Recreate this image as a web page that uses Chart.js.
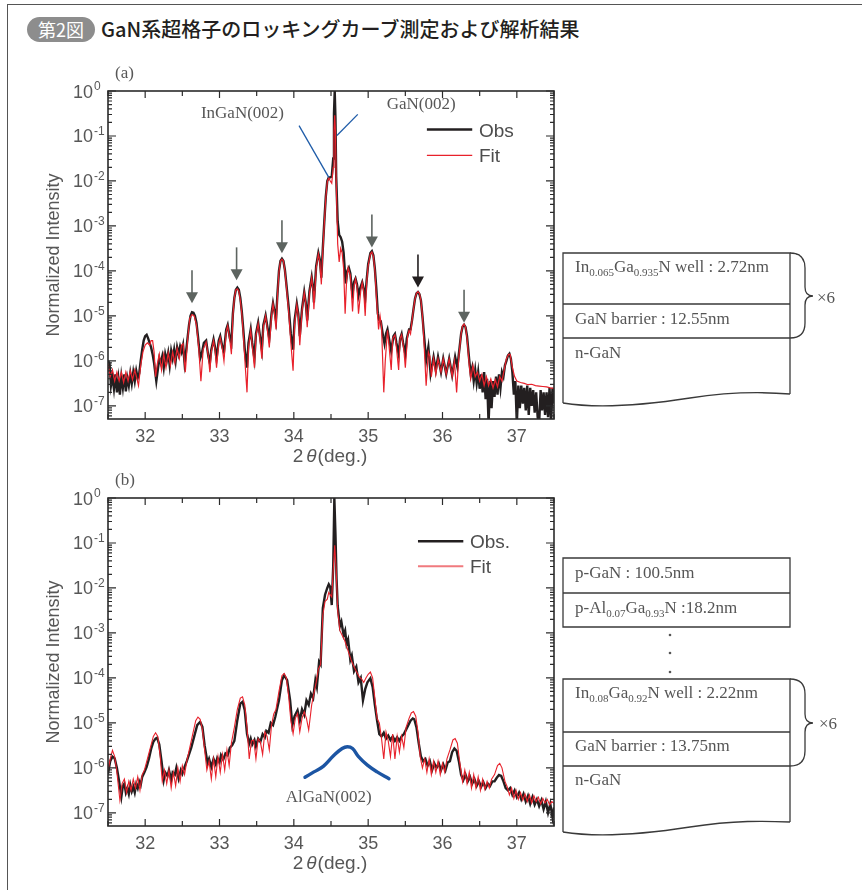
<!DOCTYPE html>
<html lang="ja">
<head>
<meta charset="utf-8">
<title>GaN系超格子のロッキングカーブ測定および解析結果</title>
<script src="https://cdn.jsdelivr.net/npm/chart.js@4.4.1/dist/chart.umd.min.js"></script>
<style>
  html, body { margin: 0; padding: 0; background: #fff; }
  #page { position: relative; width: 862px; height: 890px; overflow: hidden; }
  .rule-top { position: absolute; left: 7px; top: 4px; right: 0; border-top: 1.5px solid #555; }
  .rule-left { position: absolute; left: 7px; top: 4px; bottom: 0; border-left: 1.5px solid #555; }
  .badge { position: absolute; left: 27px; top: 17px; width: 68px; height: 25px; border-radius: 13px;
           background: #8d8d8d; color: #fff; font: 18px "Noto Sans CJK JP"; line-height: 25px; text-align: center; }
  .title { position: absolute; left: 101px; top: 15px; font: 500 20px "Noto Sans CJK JP"; line-height: 28px; color: #231f20; }
  canvas { position: absolute; left: 0; }
  #layers { position: absolute; left: 0; top: 0; }
</style>
</head>
<body>
<div id="page">
  <div class="rule-top"></div>
  <div class="rule-left"></div>
  <div class="badge">第2図</div>
  <div class="title">GaN系超格子のロッキングカーブ測定および解析結果</div>

  <canvas id="chartA" width="580" height="420" style="top:56px"></canvas>
  <canvas id="chartB" width="580" height="424" style="top:466px"></canvas>

  <svg id="layers" width="862" height="890" viewBox="0 0 862 890">
    <g fill="none" stroke="#3a3a3a" stroke-width="1.3">
      <path d="M563,403 L563,253 L790,253 L790,394"/>
      <path d="M563,304 H790 M563,338 H790"/>
      <path d="M563,403 C600,409 645,405 690,398 S765,392 790,394"/>
      <path d="M790,253 Q805,253 805,268 L805,287 Q805,296 813,296 Q805,296 805,305 L805,323 Q805,338 790,338"/>

      <path d="M563,558 H790 V627 H563 Z"/>
      <path d="M563,593 H790"/>
      <path d="M563,832 L563,679 L790,679 L790,822"/>
      <path d="M563,732 H790 M563,766 H790"/>
      <path d="M563,832 C600,838 645,834 690,827 S765,821 790,822"/>
      <path d="M790,679 Q805,679 805,694 L805,714 Q805,723 813,723 Q805,723 805,732 L805,751 Q805,766 790,766"/>
    </g>
    <g font-family="Liberation Serif" font-size="17" fill="#555">
      <text x="575" y="272">In<tspan font-size="11" dy="4">0.065</tspan><tspan dy="-4">Ga</tspan><tspan font-size="11" dy="4">0.935</tspan><tspan dy="-4">N well : 2.72nm</tspan></text>
      <text x="575" y="324">GaN barrier : 12.55nm</text>
      <text x="575" y="358">n-GaN</text>
      <text x="817" y="303">×6</text>

      <text x="575" y="578">p-GaN : 100.5nm</text>
      <text x="575" y="613">p-Al<tspan font-size="11" dy="4">0.07</tspan><tspan dy="-4">Ga</tspan><tspan font-size="11" dy="4">0.93</tspan><tspan dy="-4">N :18.2nm</tspan></text>
      <text x="575" y="698">In<tspan font-size="11" dy="4">0.08</tspan><tspan dy="-4">Ga</tspan><tspan font-size="11" dy="4">0.92</tspan><tspan dy="-4">N well : 2.22nm</tspan></text>
      <text x="575" y="751">GaN barrier : 13.75nm</text>
      <text x="575" y="785">n-GaN</text>
      <text x="819" y="729">×6</text>
      <circle cx="670" cy="635" r="1.3"/>
      <circle cx="670" cy="653" r="1.3"/>
      <circle cx="670" cy="672" r="1.3"/>
    </g>
  </svg>
</div>

<script>
// axis ticks
const xTicks = [31.5, 32, 32.5, 33, 33.5, 34, 34.5, 35, 35.5, 36, 36.5, 37, 37.5];
const xTickLabels = [32, 33, 34, 35, 36, 37];
const yDecades = [0, -1, -2, -3, -4, -5, -6, -7];

// curves as [2theta (deg), log10(normalized intensity)]
const obsA = [[31.50,-6.00],[31.52,-6.05],[31.54,-6.55],[31.56,-6.35],[31.58,-6.62],[31.60,-6.30],[31.62,-6.70],[31.64,-6.40],[31.66,-6.75],[31.68,-6.35],[31.70,-6.60],[31.72,-6.30],[31.74,-6.68],[31.76,-6.38],[31.78,-6.55],[31.80,-6.28],[31.82,-6.50],[31.84,-6.25],[31.86,-6.45],[31.88,-6.22],[31.90,-6.38],[31.92,-6.28],[31.94,-6.00],[31.96,-5.75],[31.98,-5.55],[32.00,-5.45],[32.02,-5.42],[32.04,-5.50],[32.06,-5.60],[32.08,-5.70],[32.10,-5.85],[32.12,-6.05],[32.15,-6.45],[32.17,-6.20],[32.19,-5.95],[32.21,-6.05],[32.23,-5.90],[32.25,-6.15],[32.27,-5.85],[32.29,-6.00],[32.31,-5.82],[32.33,-6.10],[32.35,-5.78],[32.37,-5.95],[32.39,-5.75],[32.41,-6.00],[32.43,-5.70],[32.45,-5.85],[32.47,-5.68],[32.49,-5.80],[32.51,-5.65],[32.53,-6.05],[32.55,-5.80],[32.57,-5.50],[32.59,-5.20],[32.61,-5.00],[32.63,-4.92],[32.65,-4.93],[32.67,-5.00],[32.69,-5.15],[32.71,-5.45],[32.74,-5.95],[32.76,-5.85],[32.79,-5.60],[32.82,-5.55],[32.85,-5.90],[32.87,-6.05],[32.89,-5.75],[32.92,-5.52],[32.94,-5.70],[32.96,-5.95],[32.99,-5.55],[33.01,-5.45],[33.04,-5.70],[33.06,-5.80],[33.09,-5.30],[33.11,-5.20],[33.14,-5.50],[33.16,-5.60],[33.18,-4.95],[33.20,-4.60],[33.22,-4.42],[33.24,-4.37],[33.26,-4.42],[33.28,-4.60],[33.30,-4.90],[33.32,-5.30],[33.34,-5.75],[33.37,-6.15],[33.39,-5.60],[33.42,-5.30],[33.44,-5.60],[33.47,-5.95],[33.49,-5.40],[33.52,-5.15],[33.54,-5.40],[33.57,-5.75],[33.59,-5.20],[33.62,-4.99],[33.64,-5.20],[33.67,-5.50],[33.70,-4.95],[33.72,-4.72],[33.74,-4.90],[33.76,-5.10],[33.78,-4.50],[33.80,-4.00],[33.82,-3.78],[33.84,-3.73],[33.86,-3.78],[33.88,-3.98],[33.90,-4.30],[33.93,-4.80],[33.96,-5.40],[33.99,-5.75],[34.01,-5.10],[34.04,-4.73],[34.06,-4.95],[34.08,-5.45],[34.11,-4.85],[34.14,-4.47],[34.16,-4.70],[34.18,-5.10],[34.21,-4.45],[34.24,-4.14],[34.26,-4.40],[34.27,-4.70],[34.30,-3.90],[34.33,-3.60],[34.35,-3.75],[34.37,-4.15],[34.39,-3.50],[34.41,-2.90],[34.43,-2.35],[34.45,-2.00],[34.47,-1.92],[34.49,-1.92],[34.51,-1.90],[34.53,-1.50],[34.54,-0.50],[34.55,0.00],[34.56,-0.60],[34.57,-1.90],[34.59,-2.90],[34.61,-3.20],[34.63,-3.25],[34.65,-3.35],[34.67,-3.60],[34.69,-4.10],[34.70,-4.28],[34.72,-4.00],[34.74,-3.93],[34.76,-4.05],[34.78,-4.40],[34.79,-4.50],[34.81,-4.25],[34.83,-4.17],[34.85,-4.30],[34.87,-4.55],[34.89,-4.40],[34.92,-4.25],[34.94,-4.40],[34.96,-4.62],[34.98,-4.20],[35.00,-3.85],[35.03,-3.60],[35.05,-3.56],[35.07,-3.65],[35.09,-3.95],[35.11,-4.40],[35.13,-4.95],[35.15,-5.10],[35.17,-5.12],[35.20,-5.45],[35.22,-5.62],[35.24,-5.40],[35.26,-5.30],[35.28,-5.50],[35.31,-5.78],[35.34,-5.45],[35.36,-5.40],[35.38,-5.60],[35.41,-5.85],[35.43,-5.50],[35.45,-5.40],[35.47,-5.60],[35.50,-5.85],[35.52,-5.50],[35.55,-5.30],[35.57,-5.30],[35.59,-5.10],[35.61,-4.85],[35.63,-4.62],[35.65,-4.50],[35.67,-4.47],[35.69,-4.52],[35.71,-4.66],[35.73,-5.00],[35.75,-5.40],[35.78,-5.99],[35.81,-5.69],[35.84,-6.29],[35.88,-5.91],[35.91,-6.21],[35.94,-5.91],[35.98,-6.25],[36.01,-5.95],[36.05,-6.29],[36.09,-5.95],[36.13,-6.32],[36.17,-5.91],[36.20,-6.14],[36.23,-5.70],[36.25,-5.40],[36.27,-5.24],[36.29,-5.20],[36.31,-5.25],[36.33,-5.45],[36.36,-5.99],[36.38,-6.30],[36.40,-6.15],[36.42,-6.45],[36.44,-6.20],[36.46,-6.50],[36.48,-6.25],[36.50,-6.62],[36.52,-6.30],[36.54,-6.70],[36.56,-6.25],[36.58,-6.85],[36.60,-6.40],[36.62,-7.40],[36.64,-6.45],[36.66,-7.05],[36.68,-6.45],[36.70,-6.80],[36.72,-6.35],[36.74,-6.75],[36.76,-6.30],[36.78,-6.60],[36.80,-6.25],[36.82,-6.35],[36.84,-6.10],[36.86,-6.00],[36.88,-5.88],[36.90,-5.84],[36.92,-5.95],[36.94,-6.25],[36.96,-6.75],[36.98,-6.45],[37.00,-7.40],[37.02,-6.55],[37.04,-7.05],[37.06,-6.55],[37.08,-6.95],[37.10,-6.60],[37.12,-7.10],[37.14,-6.55],[37.16,-7.20],[37.18,-6.60],[37.20,-7.00],[37.22,-6.65],[37.24,-7.15],[37.26,-6.70],[37.28,-7.25],[37.30,-7.40],[37.32,-6.65],[37.34,-7.10],[37.36,-6.70],[37.38,-7.20],[37.40,-6.70],[37.42,-7.25],[37.44,-6.60],[37.46,-7.40],[37.48,-6.60],[37.50,-6.95]];

const fitA = [[31.50,-6.05],[31.53,-6.35],[31.56,-6.20],[31.59,-6.45],[31.62,-6.25],[31.65,-6.45],[31.68,-6.25],[31.71,-6.48],[31.74,-6.25],[31.77,-6.45],[31.80,-6.22],[31.83,-6.42],[31.86,-6.20],[31.89,-6.40],[31.91,-6.55],[31.94,-6.10],[31.97,-5.80],[32.00,-5.65],[32.03,-5.60],[32.06,-5.65],[32.08,-5.55],[32.10,-5.55],[32.12,-5.80],[32.14,-6.35],[32.16,-6.10],[32.19,-5.85],[32.22,-6.20],[32.25,-5.85],[32.28,-6.15],[32.31,-5.82],[32.34,-6.10],[32.37,-5.80],[32.40,-6.05],[32.43,-5.72],[32.46,-5.95],[32.49,-5.65],[32.51,-5.62],[32.54,-6.25],[32.57,-5.55],[32.60,-5.05],[32.63,-4.97],[32.66,-5.00],[32.69,-5.20],[32.72,-5.70],[32.75,-6.45],[32.78,-5.75],[32.82,-5.58],[32.85,-5.90],[32.87,-6.25],[32.89,-5.80],[32.92,-5.55],[32.94,-5.75],[32.96,-6.15],[32.99,-5.60],[33.01,-5.48],[33.04,-5.75],[33.06,-6.00],[33.09,-5.35],[33.11,-5.22],[33.14,-5.55],[33.16,-5.85],[33.18,-5.00],[33.20,-4.60],[33.22,-4.42],[33.24,-4.40],[33.26,-4.45],[33.28,-4.65],[33.30,-4.95],[33.32,-5.40],[33.34,-5.95],[33.37,-6.70],[33.39,-5.70],[33.42,-5.32],[33.44,-5.65],[33.47,-6.15],[33.49,-5.45],[33.52,-5.17],[33.54,-5.45],[33.57,-5.95],[33.59,-5.25],[33.62,-5.00],[33.64,-5.25],[33.67,-5.70],[33.70,-5.00],[33.72,-4.73],[33.74,-4.95],[33.76,-5.30],[33.78,-4.55],[33.80,-4.02],[33.82,-3.78],[33.84,-3.74],[33.86,-3.78],[33.88,-4.00],[33.90,-4.35],[33.93,-4.90],[33.96,-5.60],[33.99,-6.22],[34.01,-5.20],[34.04,-4.75],[34.06,-5.00],[34.08,-5.65],[34.11,-4.90],[34.14,-4.48],[34.16,-4.72],[34.18,-5.25],[34.21,-4.50],[34.24,-4.15],[34.26,-4.45],[34.27,-4.85],[34.30,-3.95],[34.33,-3.62],[34.35,-3.80],[34.37,-4.30],[34.39,-3.55],[34.41,-2.95],[34.43,-2.38],[34.45,-2.02],[34.47,-1.93],[34.49,-2.00],[34.51,-2.05],[34.53,-1.70],[34.54,-0.90],[34.55,-0.54],[34.56,-0.90],[34.57,-2.00],[34.59,-3.40],[34.61,-3.80],[34.63,-3.50],[34.65,-3.60],[34.67,-3.95],[34.69,-4.95],[34.71,-4.20],[34.73,-3.93],[34.76,-4.10],[34.79,-4.90],[34.81,-4.35],[34.83,-4.18],[34.85,-4.35],[34.87,-4.95],[34.90,-4.45],[34.92,-4.26],[34.94,-4.45],[34.96,-5.00],[34.98,-4.25],[35.00,-3.88],[35.03,-3.62],[35.05,-3.58],[35.07,-3.67],[35.09,-3.98],[35.11,-4.55],[35.14,-5.30],[35.16,-5.00],[35.18,-5.25],[35.21,-6.70],[35.23,-6.00],[35.26,-5.32],[35.28,-5.65],[35.31,-6.20],[35.33,-5.50],[35.36,-5.42],[35.38,-5.70],[35.41,-6.20],[35.43,-5.50],[35.45,-5.42],[35.48,-5.75],[35.50,-6.15],[35.53,-5.45],[35.55,-5.32],[35.57,-5.40],[35.59,-5.10],[35.61,-4.85],[35.63,-4.62],[35.65,-4.50],[35.67,-4.46],[35.69,-4.50],[35.71,-4.66],[35.73,-5.00],[35.75,-5.55],[35.78,-6.55],[35.81,-5.80],[35.83,-5.90],[35.85,-6.35],[35.88,-5.95],[35.91,-6.30],[35.94,-5.95],[35.98,-6.25],[36.01,-5.95],[36.05,-6.30],[36.09,-5.95],[36.13,-6.35],[36.16,-6.00],[36.19,-6.70],[36.22,-5.90],[36.25,-5.40],[36.27,-5.22],[36.29,-5.18],[36.31,-5.25],[36.33,-5.50],[36.36,-6.10],[36.38,-6.40],[36.41,-6.10],[36.44,-6.35],[36.47,-6.25],[36.50,-6.45],[36.53,-6.30],[36.56,-6.55],[36.59,-6.35],[36.62,-6.55],[36.65,-6.40],[36.68,-6.60],[36.71,-6.42],[36.74,-6.58],[36.77,-6.35],[36.80,-6.45],[36.83,-6.20],[36.86,-5.95],[36.89,-5.85],[36.91,-5.86],[36.94,-6.15],[36.97,-6.35],[37.00,-6.45],[37.05,-6.48],[37.10,-6.50],[37.15,-6.53],[37.20,-6.52],[37.25,-6.55],[37.30,-6.56],[37.35,-6.57],[37.40,-6.58],[37.45,-6.60],[37.50,-6.61]];

const obsB = [[31.50,-6.13],[31.53,-5.85],[31.56,-5.75],[31.59,-5.79],[31.62,-6.00],[31.65,-6.30],[31.68,-6.64],[31.70,-6.40],[31.72,-6.35],[31.74,-6.55],[31.76,-6.45],[31.78,-6.58],[31.80,-6.38],[31.82,-6.52],[31.84,-6.42],[31.86,-6.55],[31.88,-6.36],[31.90,-6.45],[31.92,-6.30],[31.94,-6.38],[31.96,-6.20],[31.99,-6.10],[32.02,-5.98],[32.05,-5.80],[32.08,-5.58],[32.11,-5.42],[32.14,-5.35],[32.16,-5.33],[32.19,-5.48],[32.22,-5.85],[32.25,-6.27],[32.27,-6.10],[32.30,-6.18],[32.32,-6.05],[32.35,-6.27],[32.37,-6.10],[32.40,-6.15],[32.42,-6.00],[32.45,-6.24],[32.48,-6.05],[32.50,-6.13],[32.53,-5.98],[32.56,-5.85],[32.59,-5.70],[32.62,-5.55],[32.66,-5.30],[32.70,-5.05],[32.74,-4.98],[32.77,-5.09],[32.80,-5.50],[32.84,-5.90],[32.86,-5.80],[32.89,-5.98],[32.92,-5.80],[32.95,-5.92],[32.97,-5.78],[33.00,-5.88],[33.02,-5.72],[33.05,-5.82],[33.08,-5.68],[33.11,-5.72],[33.14,-5.55],[33.17,-5.50],[33.20,-5.40],[33.24,-4.94],[33.28,-4.57],[33.31,-4.53],[33.34,-4.72],[33.37,-5.24],[33.40,-5.46],[33.42,-5.35],[33.44,-5.48],[33.47,-5.38],[33.49,-5.52],[33.52,-5.35],[33.55,-5.42],[33.58,-5.25],[33.61,-5.32],[33.63,-5.18],[33.66,-5.22],[33.69,-5.00],[33.72,-5.05],[33.75,-4.87],[33.80,-4.50],[33.84,-4.05],[33.87,-3.94],[33.91,-4.05],[33.95,-4.50],[33.98,-5.05],[34.01,-4.85],[34.05,-4.72],[34.08,-4.95],[34.11,-4.70],[34.14,-4.82],[34.17,-4.50],[34.20,-4.60],[34.23,-4.35],[34.26,-4.45],[34.29,-4.05],[34.31,-4.20],[34.34,-3.64],[34.36,-3.70],[34.39,-2.45],[34.42,-2.15],[34.45,-2.00],[34.47,-1.92],[34.49,-1.98],[34.51,-2.38],[34.53,-1.50],[34.545,0.00],[34.56,-0.80],[34.575,-1.80],[34.59,-2.40],[34.62,-2.85],[34.64,-2.75],[34.67,-3.05],[34.69,-2.95],[34.71,-3.25],[34.73,-3.15],[34.76,-3.60],[34.78,-3.50],[34.81,-3.85],[34.84,-3.75],[34.87,-4.10],[34.90,-4.00],[34.93,-4.50],[34.96,-4.25],[34.99,-4.10],[35.03,-4.01],[35.06,-4.20],[35.09,-4.60],[35.12,-4.95],[35.15,-5.25],[35.18,-5.30],[35.21,-5.22],[35.24,-5.35],[35.27,-5.28],[35.30,-5.38],[35.33,-5.30],[35.36,-5.40],[35.39,-5.32],[35.42,-5.40],[35.45,-5.30],[35.48,-5.25],[35.51,-5.15],[35.54,-5.05],[35.57,-4.95],[35.60,-4.90],[35.62,-4.92],[35.65,-5.10],[35.68,-5.45],[35.71,-5.75],[35.74,-5.85],[35.77,-5.80],[35.80,-5.95],[35.83,-5.85],[35.86,-6.05],[35.89,-5.90],[35.92,-6.00],[35.95,-5.90],[35.98,-6.05],[36.01,-5.92],[36.04,-6.05],[36.07,-5.88],[36.10,-5.85],[36.13,-5.65],[36.16,-5.57],[36.19,-5.62],[36.22,-5.85],[36.25,-6.15],[36.28,-6.27],[36.31,-6.15],[36.34,-6.30],[36.37,-6.20],[36.40,-6.35],[36.43,-6.25],[36.46,-6.40],[36.49,-6.30],[36.52,-6.42],[36.55,-6.32],[36.58,-6.45],[36.61,-6.35],[36.64,-6.40],[36.67,-6.30],[36.70,-6.30],[36.73,-6.22],[36.76,-6.16],[36.79,-6.18],[36.82,-6.30],[36.85,-6.45],[36.88,-6.50],[36.91,-6.45],[36.94,-6.60],[36.97,-6.50],[37.00,-6.65],[37.03,-6.55],[37.06,-6.70],[37.09,-6.58],[37.12,-6.75],[37.15,-6.62],[37.18,-6.80],[37.21,-6.65],[37.24,-6.82],[37.27,-6.70],[37.30,-6.85],[37.33,-6.72],[37.36,-6.92],[37.39,-6.75],[37.42,-7.00],[37.45,-6.80],[37.48,-7.10],[37.50,-6.88]];

const fitB = [[31.50,-6.05],[31.53,-5.80],[31.56,-5.61],[31.59,-5.75],[31.62,-6.10],[31.66,-6.72],[31.69,-6.35],[31.72,-6.25],[31.75,-6.55],[31.78,-6.30],[31.81,-6.50],[31.84,-6.25],[31.87,-6.45],[31.90,-6.20],[31.93,-6.50],[31.96,-6.15],[31.99,-6.05],[32.03,-5.80],[32.07,-5.55],[32.11,-5.30],[32.14,-5.22],[32.17,-5.30],[32.20,-5.70],[32.23,-6.30],[32.26,-6.05],[32.29,-6.35],[32.32,-6.05],[32.35,-6.45],[32.38,-6.10],[32.41,-6.40],[32.44,-6.00],[32.47,-6.30],[32.50,-5.95],[32.53,-6.15],[32.56,-5.85],[32.60,-5.55],[32.64,-5.25],[32.68,-4.95],[32.71,-4.87],[32.74,-4.92],[32.77,-5.15],[32.80,-5.60],[32.83,-6.05],[32.86,-5.85],[32.89,-6.25],[32.92,-5.80],[32.95,-6.20],[32.98,-5.75],[33.01,-6.10],[33.04,-5.70],[33.07,-6.05],[33.10,-5.60],[33.13,-5.95],[33.16,-5.45],[33.20,-5.10],[33.24,-4.70],[33.28,-4.45],[33.31,-4.42],[33.34,-4.60],[33.37,-5.10],[33.40,-5.80],[33.43,-5.40],[33.46,-5.38],[33.49,-5.80],[33.52,-5.35],[33.55,-5.42],[33.58,-5.70],[33.61,-5.20],[33.64,-5.30],[33.67,-5.60],[33.70,-5.05],[33.73,-4.80],[33.76,-4.70],[33.80,-4.30],[33.84,-3.95],[33.87,-3.90],[33.90,-4.00],[33.93,-4.40],[33.96,-4.95],[33.99,-5.24],[34.02,-4.90],[34.05,-4.79],[34.08,-5.20],[34.11,-4.90],[34.14,-4.75],[34.17,-4.90],[34.20,-5.16],[34.24,-4.60],[34.27,-4.35],[34.30,-4.10],[34.33,-3.80],[34.36,-3.70],[34.39,-2.60],[34.42,-2.30],[34.45,-2.25],[34.47,-2.10],[34.49,-2.15],[34.51,-2.20],[34.53,-1.60],[34.55,-1.05],[34.57,-1.60],[34.59,-2.50],[34.62,-2.95],[34.65,-3.05],[34.68,-3.15],[34.71,-3.30],[34.74,-3.45],[34.77,-3.60],[34.80,-3.72],[34.84,-3.85],[34.88,-3.98],[34.91,-4.02],[34.94,-4.10],[34.97,-4.00],[35.00,-3.92],[35.03,-3.87],[35.06,-4.00],[35.09,-4.45],[35.12,-4.90],[35.15,-5.00],[35.18,-5.35],[35.21,-5.80],[35.24,-5.20],[35.27,-5.40],[35.30,-5.75],[35.33,-5.25],[35.36,-5.80],[35.39,-5.30],[35.42,-5.65],[35.45,-5.30],[35.48,-5.55],[35.51,-5.10],[35.55,-4.90],[35.58,-4.78],[35.61,-4.75],[35.64,-4.85],[35.67,-5.20],[35.70,-5.75],[35.73,-6.00],[35.76,-5.80],[35.79,-6.10],[35.82,-5.80],[35.85,-6.15],[35.88,-5.85],[35.91,-6.10],[35.94,-5.85],[35.97,-6.15],[36.00,-5.90],[36.03,-6.10],[36.06,-5.80],[36.10,-5.60],[36.14,-5.38],[36.17,-5.35],[36.20,-5.45],[36.23,-5.85],[36.27,-6.31],[36.30,-6.05],[36.33,-6.35],[36.36,-6.10],[36.39,-6.45],[36.42,-6.15],[36.45,-6.45],[36.48,-6.20],[36.51,-6.50],[36.54,-6.25],[36.57,-6.48],[36.60,-6.30],[36.63,-6.45],[36.66,-6.25],[36.70,-6.15],[36.74,-5.95],[36.77,-5.90],[36.80,-6.00],[36.84,-6.30],[36.87,-6.42],[36.90,-6.60],[36.93,-6.45],[36.96,-6.68],[36.99,-6.50],[37.02,-6.70],[37.05,-6.55],[37.08,-6.72],[37.11,-6.58],[37.14,-6.75],[37.17,-6.60],[37.20,-6.78],[37.23,-6.62],[37.26,-6.75],[37.29,-6.65],[37.32,-6.80],[37.35,-6.68],[37.38,-6.78],[37.41,-6.70],[37.44,-6.82],[37.47,-6.75],[37.50,-6.79]];

// AlGaN(002) guide curve and the two leader lines of panel (a)
const alganB = [[34.15,-6.21],[34.27,-6.09],[34.40,-5.96],[34.54,-5.72],[34.65,-5.57],[34.72,-5.53],[34.79,-5.57],[34.87,-5.75],[34.99,-5.94],[35.12,-6.09],[35.28,-6.24]];
const inganLeader = [[34.07,-0.77],[34.47,-1.92]];
const ganLeader = [[34.86,-0.52],[34.58,-0.99]];

// satellite arrows of panel (a): position and arrow-tip level
const arrowX = [32.63, 33.23, 33.84, 35.05, 35.67, 36.29];
const arrowTip = [-4.72, -4.21, -3.61, -3.48, -4.37, -5.15];

const toPoints = pairs => pairs.map(([t, e]) => ({ x: t, y: Math.pow(10, e) }));

const SANS = '"Liberation Sans", Arial, sans-serif';
const SERIF = '"Liberation Serif", "Times New Roman", serif';
const GREY = '#575757';

const decor = {
    id: 'decor',
    afterDraw(chart, args, o) {
        const { ctx, chartArea: a } = chart;
        const sx = chart.scales.x, sy = chart.scales.y;
        const X = v => sx.getPixelForValue(v);
        const Y = e => sy.getPixelForValue(Math.pow(10, e));
        ctx.save();

        // inward ticks on all four sides
        ctx.strokeStyle = '#2b2b2b';
        ctx.lineWidth = 1.2;
        ctx.beginPath();
        xTicks.forEach(t => {
            const px = X(t), len = Number.isInteger(t) ? 7 : 5;
            ctx.moveTo(px, a.bottom); ctx.lineTo(px, a.bottom - len);
            ctx.moveTo(px, a.top); ctx.lineTo(px, a.top + len);
        });
        for (let e = -8; e <= 0; e++) {
            for (let m = 1; m <= 9; m++) {
                const v = m * Math.pow(10, e);
                if (v < sy.min * 0.999 || v > sy.max * 1.001) continue;
                const py = sy.getPixelForValue(v), len = m === 1 ? 8 : 4;
                ctx.moveTo(a.left, py); ctx.lineTo(a.left + len, py);
                ctx.moveTo(a.right, py); ctx.lineTo(a.right - len, py);
            }
        }
        ctx.stroke();
        ctx.lineWidth = 1.6;
        ctx.strokeRect(a.left, a.top, a.right - a.left, a.bottom - a.top);

        // tick labels
        ctx.fillStyle = GREY;
        ctx.textBaseline = 'alphabetic';
        ctx.textAlign = 'left';
        yDecades.forEach(e => {
            const py = Y(e), x0 = a.left - 35;
            ctx.font = '18px ' + SANS;
            ctx.fillText('10', x0, py + 6.5);
            const w = ctx.measureText('10').width;
            ctx.font = '12px ' + SANS;
            ctx.fillText(String(e), x0 + w + 1, py - 1);
        });
        ctx.font = '18px ' + SANS;
        ctx.textAlign = 'center';
        xTickLabels.forEach(t => ctx.fillText(String(t), X(t), a.bottom + 23));

        // axis titles
        const cx = (a.left + a.right) / 2 - 1, by = a.bottom + 43;
        const parts = [['2', '19px ' + SANS], ['θ', 'italic 19px ' + SANS], ['(deg.)', '19px ' + SANS]];
        let total = 0;
        parts.forEach(([s, f]) => { ctx.font = f; total += ctx.measureText(s).width; });
        total += 4;
        let px = cx - total / 2;
        ctx.textAlign = 'left';
        parts.forEach(([s, f], i) => {
            ctx.font = f;
            ctx.fillText(s, px, by);
            px += ctx.measureText(s).width + (i === 0 ? 3 : 1);
        });
        ctx.save();
        ctx.translate(a.left - 49, (a.top + a.bottom) / 2);
        ctx.rotate(-Math.PI / 2);
        ctx.textAlign = 'center';
        ctx.font = '18px ' + SANS;
        ctx.fillText('Normalized Intensity', 0, 0);
        ctx.restore();

        // panel tag
        ctx.font = '17px ' + SERIF;
        ctx.textAlign = 'left';
        ctx.fillText(o.panel, a.left + 7, a.top - 13);

        // legend
        const lg = o.legend;
        lg.rows.forEach(r => {
            const py = Y(r.level);
            ctx.strokeStyle = r.color;
            ctx.lineWidth = r.width;
            ctx.beginPath();
            ctx.moveTo(X(lg.from), py); ctx.lineTo(X(lg.to), py);
            ctx.stroke();
            ctx.fillStyle = '#4d4d4d';
            ctx.font = '19px ' + SANS;
            ctx.textAlign = 'left';
            ctx.fillText(r.label, X(lg.text), py + 7);
        });

        // peak notes
        ctx.fillStyle = GREY;
        ctx.font = '17px ' + SERIF;
        (o.notes || []).forEach(n => {
            ctx.textAlign = n.align;
            ctx.fillText(n.text, X(n.x), Y(n.level));
        });

        // arrows
        if (o.arrows) {
            arrowX.forEach((t, i) => {
                const ax = X(t), tip = Y(arrowTip[i]);
                const col = i === 4 ? '#231f20' : '#5d6460';
                ctx.strokeStyle = col;
                ctx.fillStyle = col;
                ctx.lineWidth = 1.6;
                ctx.beginPath();
                ctx.moveTo(ax, tip - 33); ctx.lineTo(ax, tip - 10);
                ctx.stroke();
                ctx.beginPath();
                ctx.moveTo(ax - 6, tip - 11); ctx.lineTo(ax + 6, tip - 11); ctx.lineTo(ax, tip);
                ctx.closePath();
                ctx.fill();
            });
        }
        ctx.restore();
    }
};

const panelOptions = (padTop, padBottom, decorOpts) => ({
    responsive: false,
    animation: false,
    events: [],
    layout: { padding: { left: 108, right: 26, top: padTop, bottom: padBottom } },
    scales: {
        x: { type: 'linear', min: 31.5, max: 37.5, display: false },
        y: { type: 'logarithmic', min: 5.1e-8, max: 1, display: false }
    },
    elements: { point: { radius: 0 }, line: { tension: 0 } },
    plugins: { legend: { display: false }, tooltip: { enabled: false }, decor: decorOpts }
});

const obsStyle = { borderColor: '#231f20', borderWidth: 2.4, clip: 0, order: 2 };
const fitStyle = { borderColor: '#e8212b', borderWidth: 1.2, clip: 0, order: 1 };
const leaderStyle = { borderColor: '#1f5ca8', borderWidth: 1.3, clip: false, order: 0 };

new Chart(document.getElementById('chartA'), {
    type: 'line',
    data: {
        datasets: [
            { label: 'Obs', data: toPoints(obsA), ...obsStyle },
            { label: 'Fit', data: toPoints(fitA), ...fitStyle },
            { label: 'InGaN(002)', data: toPoints(inganLeader), ...leaderStyle },
            { label: 'GaN(002)', data: toPoints(ganLeader), ...leaderStyle }
        ]
    },
    options: panelOptions(35, 57, {
        panel: '(a)',
        arrows: true,
        legend: {
            from: 35.79, to: 36.40, text: 36.49,
            rows: [
                { label: 'Obs', level: -0.856, color: '#231f20', width: 2.6 },
                { label: 'Fit', level: -1.433, color: '#e8212b', width: 1.3 }
            ]
        },
        notes: [
            { text: 'InGaN(002)', x: 32.75, level: -0.59, align: 'left' },
            { text: 'GaN(002)', x: 35.25, level: -0.41, align: 'left' }
        ]
    }),
    plugins: [decor]
});

new Chart(document.getElementById('chartB'), {
    type: 'line',
    data: {
        datasets: [
            { label: 'Obs.', data: toPoints(obsB), ...obsStyle },
            { label: 'Fit', data: toPoints(fitB), ...fitStyle, borderWidth: 1.1 },
            { label: 'AlGaN(002)', data: toPoints(alganB), borderColor: '#1c55a3', borderWidth: 3.4,
              tension: 0.4, clip: false, order: 0, borderCapStyle: 'round' }
        ]
    },
    options: panelOptions(32, 64, {
        panel: '(b)',
        arrows: false,
        legend: {
            from: 35.67, to: 36.28, text: 36.37,
            rows: [
                { label: 'Obs.', level: -0.962, color: '#231f20', width: 2.6 },
                { label: 'Fit', level: -1.518, color: '#f07a7e', width: 2 }
            ]
        },
        notes: [
            { text: 'AlGaN(002)', x: 34.47, level: -6.76, align: 'center' }
        ]
    }),
    plugins: [decor]
});
</script>
</body>
</html>
